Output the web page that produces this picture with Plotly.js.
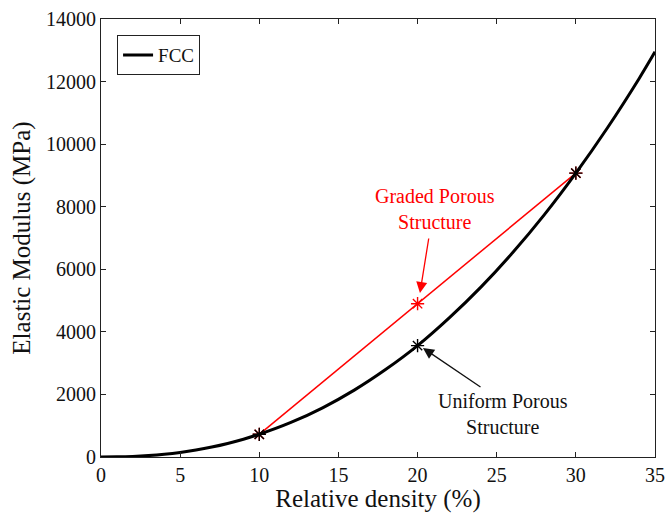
<!DOCTYPE html>
<html>
<head>
<meta charset="utf-8">
<script src="https://cdn.plot.ly/plotly-3.0.1.min.js"></script>
<style>html,body{margin:0;padding:0;background:#fff;}#chart{width:666px;height:513px;}</style>
</head>
<body>
<div id="chart"></div>
<script>
// FCC curve (relative density % vs elastic modulus MPa)
const density = [0, 1, 2, 3, 4, 5, 6, 7, 8, 9, 10, 12, 14, 16, 18, 20, 22, 24, 26, 28, 30, 32, 34, 35];
const modulus = [0, 4, 18, 45, 88, 147, 224, 319, 434, 569, 725, 1103, 1572, 2137, 2802, 3560, 4446, 5430, 6528, 7741, 9075, 10525, 12100, 12950];
// Uniform porous structure points
const uniformX = [10, 20, 30];
const uniformY = [725, 3560, 9075];
// Graded porous structure line
const gradedX = [10, 20, 30];
const gradedY = [725, 4900, 9075];
const xTicks = [0, 5, 10, 15, 20, 25, 30, 35];
const yTicks = [0, 2000, 4000, 6000, 8000, 10000, 12000, 14000];

const serif = "Liberation Serif";

const traces = [
  {x: gradedX, y: gradedY, mode: 'lines+markers', name: 'Graded', showlegend: false,
   line: {color: '#ff0000', width: 1.5},
   marker: {symbol: 'asterisk-open', size: 11, color: '#ff0000', line: {color: '#ff0000', width: 1.4}}},
  {x: density, y: modulus, mode: 'lines', name: 'FCC', line: {color: '#000', width: 3, shape: 'spline'}},
  {x: uniformX, y: uniformY, mode: 'markers', name: 'Uniform', showlegend: false,
   marker: {symbol: 'asterisk-open', size: 11, color: '#000', line: {color: '#000', width: 1.4}}}
];

const axisCommon = {
  showgrid: false, zeroline: false, showline: true, linecolor: '#222', linewidth: 1,
  mirror: 'ticks', ticks: 'inside', ticklen: 5, tickcolor: '#222',
  tickfont: {family: serif, size: 20, color: '#111'}
};

const layout = {
  width: 666, height: 513,
  margin: {l: 101, r: 11, t: 19, b: 56},
  paper_bgcolor: '#fff', plot_bgcolor: '#fff',
  font: {family: serif, color: '#111', size: 20},
  xaxis: Object.assign({}, axisCommon, {
    range: [0, 35], tickvals: xTicks, ticktext: xTicks.map(String),
    title: {text: 'Relative density (%)', font: {family: serif, size: 25, color: '#111'}, standoff: 1}
  }),
  yaxis: Object.assign({}, axisCommon, {
    range: [0, 14000], tickvals: yTicks, ticktext: yTicks.map(String),
    title: {text: 'Elastic Modulus (MPa)', font: {family: serif, size: 25, color: '#111'}, standoff: 8}
  }),
  showlegend: true,
  legend: {x: 0.029, y: 0.963, xanchor: 'left', yanchor: 'top', bgcolor: '#fff',
    bordercolor: '#222', borderwidth: 1, font: {family: serif, size: 19, color: '#111'},
    tracegroupgap: 0},
  annotations: [
    {x: 21.1, y: 7927, xref: 'x', yref: 'y', text: 'Graded Porous<br>Structure', showarrow: false,
     font: {family: serif, size: 20, color: '#ff0000'}},
    {x: 20.15, y: 5242, ax: 20.72, ay: 7032, xref: 'x', yref: 'y', axref: 'x', ayref: 'y',
     text: '', showarrow: true, arrowhead: 2, arrowsize: 1.7, arrowwidth: 1.3, arrowcolor: '#ff0000'},
    {x: 25.4, y: 1374, xref: 'x', yref: 'y', text: 'Uniform Porous<br>Structure', showarrow: false,
     font: {family: serif, size: 20, color: '#111'}},
    {x: 20.34, y: 3484, ax: 24.07, ay: 2205, xref: 'x', yref: 'y', axref: 'x', ayref: 'y',
     text: '', showarrow: true, arrowhead: 2, arrowsize: 1.7, arrowwidth: 1.3, arrowcolor: '#111'}
  ]
};

Plotly.newPlot('chart', traces, layout, {displayModeBar: false, staticPlot: true});
</script>
</body>
</html>
